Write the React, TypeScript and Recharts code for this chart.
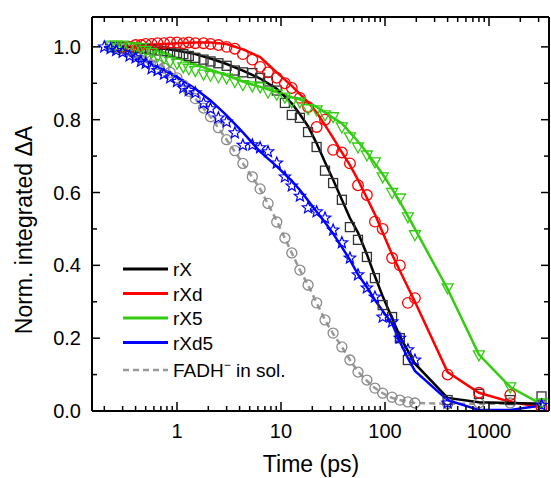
import React from 'react'
import { ComposedChart, Line, Scatter, XAxis, YAxis } from 'recharts'

// delay times (ps) of the measured points
const delays = [
  0.2, 0.23, 0.26, 0.3, 0.35, 0.4, 0.45, 0.5, 0.57, 0.65, 0.75, 0.86, 1.0, 1.15, 1.3, 1.5,
  1.8, 2.1, 2.5, 3.0, 3.6, 4.3, 5.3, 6.3, 7.5, 9.1, 10.9, 12.7, 15.2, 18.2, 22, 26.5,
  31.7, 38.5, 46, 55, 67, 80, 95, 117, 139, 166, 194, 400, 800, 1600, 3200,
]

const rX = [
  null, null, 1.0, 1.0, 1.0, 0.998, 0.996, 0.995, 0.993, 0.99, 0.988, 0.985, 0.982, 0.98, 0.975, 0.97,
  0.965, 0.96, 0.955, 0.948, 0.935, 0.93, 0.928, 0.915, 0.905, 0.88, 0.846, 0.813, 0.805, 0.766, 0.725, 0.66,
  0.626, 0.58, 0.505, 0.47, 0.423, 0.365, 0.291, 0.258, 0.2, 0.14, null, 0.03, 0.047, 0.03, 0.04,
]
const rXd = [
  null, null, null, 1.0, 1.0, 1.005, 1.005, 1.008, 1.008, 1.01, 1.01, 1.012, 1.012, 1.01, 1.012, 1.01,
  1.01, 1.008, 1.005, 1.0, 0.995, 0.98, 0.965, 0.945, 0.93, 0.915, 0.9, 0.887, 0.86, 0.835, 0.78, 0.8,
  0.717, 0.71, 0.68, 0.62, 0.593, 0.52, 0.5, 0.42, 0.4, 0.297, 0.31, 0.1, 0.05, 0.044, 0.01,
]
const rX5 = [
  null, 1.005, 1.005, 1.005, 1.0, 1.0, 0.998, 0.99, 0.985, 0.975, 0.97, 0.96, 0.955, 0.945, 0.94, 0.935,
  0.925, 0.922, 0.918, 0.915, 0.905, 0.896, 0.893, 0.89, 0.876, 0.87, 0.862, 0.849, 0.849, 0.83, 0.827, 0.813,
  0.808, 0.78, 0.753, 0.725, 0.703, 0.684, 0.643, 0.6, 0.585, 0.533, 0.484, 0.338, 0.154, 0.066, 0.022,
]
const rXd5 = [
  1.0, 0.995, 0.99, 0.985, 0.975, 0.97, 0.96, 0.955, 0.94, 0.935, 0.925, 0.915, 0.905, 0.887, 0.88, 0.874,
  0.845, 0.83, 0.805, 0.794, 0.764, 0.73, 0.731, 0.723, 0.712, 0.681, 0.643, 0.618, 0.59, 0.558, 0.547, 0.53,
  0.497, 0.462, 0.42, 0.374, 0.338, 0.313, 0.258, 0.245, 0.2, 0.168, 0.14, 0.022, null, null, 0.016,
]
const fadh = [
  null, 1.0, 0.998, 0.995, 0.99, 0.985, 0.978, 0.972, 0.962, 0.952, 0.942, 0.93, 0.915, 0.895, 0.878, 0.858,
  0.832, 0.808, 0.778, 0.745, 0.715, 0.68, 0.643, 0.61, 0.57, 0.519, 0.475, 0.434, 0.387, 0.346, 0.297, 0.25,
  0.214, 0.176, 0.14, 0.107, 0.085, 0.063, 0.049, 0.038, 0.03, 0.025, 0.022, 0.02, 0.022, 0.022, 0.02,
]

// fit curves
const fitTimes = [
  0.2, 0.3, 0.5, 0.75, 1.0, 1.5, 2.1, 3.0, 4.3, 6.3, 9.1, 12.7, 15.2, 18.2, 22, 26.5,
  31.7, 38.5, 46, 55, 67, 80, 95, 117, 139, 166, 194, 400, 800, 1600, 3200,
]
const rXFit = [
  null, 1.0, 0.998, 0.995, 0.99, 0.98, 0.968, 0.953, 0.935, 0.913, 0.885, 0.845, 0.815, 0.782, 0.735, 0.683,
  0.635, 0.58, 0.53, 0.49, 0.43, 0.37, 0.315, 0.255, 0.205, 0.165, 0.13, 0.036, 0.024, 0.022, 0.02,
]
const rXdFit = [
  null, 1.0, 1.005, 1.008, 1.01, 1.012, 1.012, 1.008, 0.993, 0.972, 0.93, 0.893, 0.87, 0.848, 0.82, 0.785,
  0.75, 0.71, 0.675, 0.635, 0.585, 0.54, 0.49, 0.43, 0.385, 0.34, 0.3, 0.107, 0.05, 0.025, 0.01,
]
const rX5Fit = [
  null, 1.005, 0.998, 0.985, 0.97, 0.952, 0.937, 0.922, 0.905, 0.89, 0.876, 0.862, 0.856, 0.845, 0.835, 0.82,
  0.805, 0.79, 0.765, 0.74, 0.71, 0.68, 0.65, 0.61, 0.575, 0.535, 0.5, 0.335, 0.155, 0.066, 0.018,
]
const rXd5Fit = [
  1.0, 0.985, 0.96, 0.937, 0.918, 0.885, 0.853, 0.812, 0.765, 0.712, 0.672, 0.632, 0.607, 0.578, 0.547, 0.518,
  0.487, 0.45, 0.415, 0.375, 0.34, 0.305, 0.275, 0.24, 0.19, 0.145, 0.11, 0.03, 0.003, 0.003, 0.015,
]
const fadhFit = [
  null, 0.995, 0.972, 0.945, 0.915, 0.858, 0.808, 0.745, 0.68, 0.61, 0.522, 0.434, 0.387, 0.346, 0.297, 0.25,
  0.212, 0.176, 0.14, 0.108, 0.083, 0.063, 0.049, 0.036, 0.03, 0.025, 0.022, 0.02, 0.02, 0.02, 0.02,
]

const xTicks = [
  0.2, 0.3, 0.4, 0.5, 0.6, 0.7, 0.8, 0.9, 1, 2, 3, 4, 5, 6, 7, 8, 9, 10, 20, 30, 40, 50, 60, 70, 80, 90,
  100, 200, 300, 400, 500, 600, 700, 800, 900, 1000, 2000, 3000,
]
const xMajor = [1, 10, 100, 1000]
const yTicks = [0, 0.1, 0.2, 0.3, 0.4, 0.5, 0.6, 0.7, 0.8, 0.9, 1.0]
const yMajor = [0, 0.2, 0.4, 0.6, 0.8, 1.0]

const legendNames = ['rX', 'rXd', 'rX5', 'rXd5']
const legendColors = ['#000000', '#ff0000', '#33cc11', '#0000ff']

const FONT = '"Liberation Sans", Arial, sans-serif'
const GREEN = '#33cc11'
const GRAY = '#8a8a8a'

const pts = (ts: number[], vs: (number | null)[]) =>
  ts.map((t, i) => ({ t, v: vs[i] })).filter((p) => p.v != null)

const Square = ({ cx, cy }: any) => (
  <rect x={cx - 4.5} y={cy - 4.5} width={9} height={9} fill="none" stroke="#333" strokeWidth={1.3} />
)
const RedCircle = ({ cx, cy }: any) => (
  <circle cx={cx} cy={cy} r={5.3} fill="none" stroke="#ff0000" strokeWidth={1.3} />
)
const TriDown = ({ cx, cy }: any) => (
  <path
    d={`M${cx - 5.5},${cy - 4} L${cx + 5.5},${cy - 4} L${cx},${cy + 6} Z`}
    fill="none"
    stroke={GREEN}
    strokeWidth={1.3}
  />
)
const Star = ({ cx, cy }: any) => {
  let d = ''
  for (let k = 0; k < 10; k++) {
    const r = k % 2 === 0 ? 6 : 2.6
    const a = -Math.PI / 2 + (k * Math.PI) / 5
    d += `${k === 0 ? 'M' : 'L'}${cx + r * Math.cos(a)},${cy + r * Math.sin(a)} `
  }
  return <path d={d + 'Z'} fill="none" stroke="#0000ff" strokeWidth={1.2} />
}
const GrayCircle = ({ cx, cy }: any) => (
  <circle cx={cx} cy={cy} r={5} fill="none" stroke={GRAY} strokeWidth={1.3} />
)

const BottomTick = ({ x, y, payload }: any) => {
  const major = xMajor.includes(payload.value)
  return (
    <g>
      <line x1={x} x2={x} y1={y} y2={y - (major ? 9 : 5)} stroke="#000" strokeWidth={1.5} />
      {major && (
        <text x={x} y={y + 27} textAnchor="middle" fontSize={20} fontFamily={FONT} fill="#000">
          {payload.value}
        </text>
      )}
    </g>
  )
}
const TopTick = ({ x, y, payload }: any) => {
  const major = xMajor.includes(payload.value)
  return <line x1={x} x2={x} y1={y} y2={y + (major ? 9 : 5)} stroke="#000" strokeWidth={1.5} />
}
const LeftTick = ({ x, y, payload }: any) => {
  const major = yMajor.includes(payload.value)
  return (
    <g>
      <line x1={x} x2={x + (major ? 8 : 5)} y1={y} y2={y} stroke="#000" strokeWidth={1.5} />
      {major && (
        <text x={x - 11} y={y + 7} textAnchor="end" fontSize={20} fontFamily={FONT} fill="#000">
          {payload.value.toFixed(1)}
        </text>
      )}
    </g>
  )
}
const RightTick = ({ x, y, payload }: any) => {
  const major = yMajor.includes(payload.value)
  return <line x1={x} x2={x - (major ? 8 : 5)} y1={y} y2={y} stroke="#000" strokeWidth={1.5} />
}

export default function App() {
  const xDomain = [0.1523, 3775]
  const yDomain = [0, 1.082]
  return (
    <div style={{ position: 'relative', width: 551, height: 478, fontFamily: FONT }}>
      <style>{'body{margin:0}'}</style>
      <ComposedChart width={551} height={478} margin={{ top: 16, right: 1, bottom: 0, left: 0 }}>
        <XAxis
          dataKey="t"
          type="number"
          scale="log"
          domain={xDomain}
          allowDataOverflow
          ticks={xTicks}
          interval={0}
          height={67}
          tickSize={0}
          tickMargin={0}
          tick={BottomTick}
          axisLine={{ stroke: '#000', strokeWidth: 2 }}
        />
        <XAxis
          xAxisId="top"
          orientation="top"
          dataKey="t"
          type="number"
          scale="log"
          domain={xDomain}
          allowDataOverflow
          ticks={xTicks}
          interval={0}
          height={1}
          tickSize={0}
          tickMargin={0}
          tick={TopTick}
          axisLine={{ stroke: '#000', strokeWidth: 2 }}
        />
        <YAxis
          dataKey="v"
          type="number"
          domain={yDomain}
          allowDataOverflow
          ticks={yTicks}
          interval={0}
          width={92}
          tickSize={0}
          tickMargin={0}
          tick={LeftTick}
          axisLine={{ stroke: '#000', strokeWidth: 2 }}
        />
        <YAxis
          yAxisId="right"
          orientation="right"
          type="number"
          domain={yDomain}
          allowDataOverflow
          ticks={yTicks}
          interval={0}
          width={1}
          tickSize={0}
          tickMargin={0}
          tick={RightTick}
          axisLine={{ stroke: '#000', strokeWidth: 2 }}
        />

        <Scatter data={pts(delays, fadh)} dataKey="v" shape={GrayCircle} isAnimationActive={false} />
        <Scatter data={pts(delays, rX)} dataKey="v" shape={Square} isAnimationActive={false} />
        <Scatter data={pts(delays, rXd)} dataKey="v" shape={RedCircle} isAnimationActive={false} />
        <Scatter data={pts(delays, rX5)} dataKey="v" shape={TriDown} isAnimationActive={false} />
        <Scatter data={pts(delays, rXd5)} dataKey="v" shape={Star} isAnimationActive={false} />

        <Line data={pts(fitTimes, fadhFit)} dataKey="v" type="linear" stroke="#999" strokeWidth={2.5}
          strokeDasharray="6 4" dot={false} isAnimationActive={false} />
        <Line data={pts(fitTimes, rX5Fit)} dataKey="v" type="linear" stroke={GREEN} strokeWidth={2.5}
          dot={false} isAnimationActive={false} />
        <Line data={pts(fitTimes, rXdFit)} dataKey="v" type="linear" stroke="#ff0000" strokeWidth={2.5}
          dot={false} isAnimationActive={false} />
        <Line data={pts(fitTimes, rXFit)} dataKey="v" type="linear" stroke="#000" strokeWidth={2.5}
          dot={false} isAnimationActive={false} />
        <Line data={pts(fitTimes, rXd5Fit)} dataKey="v" type="linear" stroke="#0000ff" strokeWidth={2.5}
          dot={false} isAnimationActive={false} />
      </ComposedChart>

      <svg width={551} height={478} style={{ position: 'absolute', left: 0, top: 0, pointerEvents: 'none' }}>
        <text transform="translate(32,230) rotate(-90)" textAnchor="middle" fontSize={23} fontFamily={FONT} fill="#000">
          Norm. integrated ΔA
        </text>
        <text x={311} y={472} textAnchor="middle" fontSize={23} fontFamily={FONT} fill="#000">
          Time (ps)
        </text>
        {legendNames.map((n, i) => (
          <g key={n}>
            <line x1={123} x2={168} y1={269 + i * 24.5} y2={269 + i * 24.5} stroke={legendColors[i]} strokeWidth={3} />
            <text x={173} y={276 + i * 24.5} fontSize={19} fontFamily={FONT} fill="#000">{n}</text>
          </g>
        ))}
        <line x1={123} x2={168} y1={370} y2={370} stroke="#999" strokeWidth={2.5} strokeDasharray="6 4" />
        <text x={173} y={377} fontSize={19} fontFamily={FONT} fill="#000">
          FADH<tspan dy={-8} fontSize={12}>−</tspan>
          <tspan dy={8}> in sol.</tspan>
        </text>
      </svg>
    </div>
  )
}
